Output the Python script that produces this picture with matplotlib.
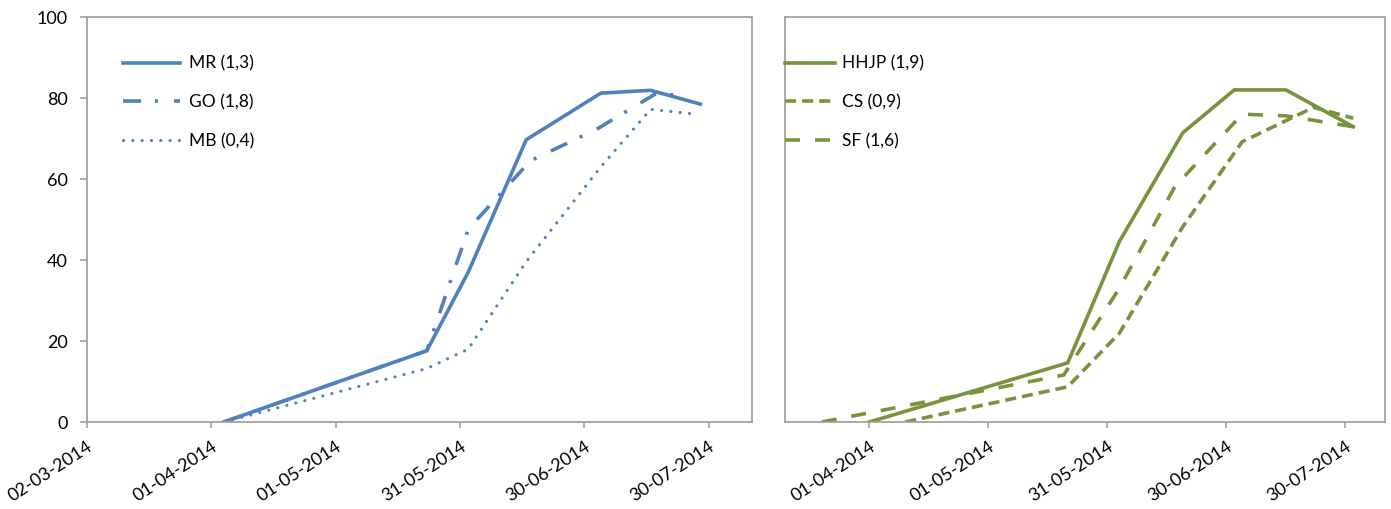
import matplotlib
matplotlib.use("Agg")
import matplotlib.pyplot as plt
import matplotlib.dates as mdates
import numpy as np

# --- data (dates as dd-mm-yyyy on the axis) ---
mr_dates = ["2014-04-04", "2014-05-23", "2014-06-02", "2014-06-16", "2014-07-04", "2014-07-16", "2014-07-28"]
mr_vals = [0, 17.6, 37.0, 69.7, 81.2, 81.9, 78.5]

go_dates = ["2014-04-04", "2014-05-23", "2014-06-02", "2014-06-17", "2014-07-03", "2014-07-17", "2014-07-24"]
go_vals = [0, 17.6, 47.6, 64.5, 72.3, 80.9, 80.7]

mb_dates = ["2014-04-04", "2014-05-23", "2014-06-02", "2014-06-16", "2014-07-04", "2014-07-16", "2014-07-27"]
mb_vals = [0, 13.2, 18.0, 39.6, 63.0, 77.2, 76.0]

hhjp_dates = ["2014-04-01", "2014-05-21", "2014-06-03", "2014-06-19", "2014-07-02", "2014-07-15", "2014-08-01"]
hhjp_vals = [0, 14.6, 44.5, 71.4, 82.0, 82.0, 72.9]

cs_dates = ["2014-04-10", "2014-05-21", "2014-06-03", "2014-06-19", "2014-07-04", "2014-07-22", "2014-08-01"]
cs_vals = [0, 8.7, 21.9, 48.2, 69.2, 77.7, 75.0]

sf_dates = ["2014-03-20", "2014-05-20", "2014-06-03", "2014-06-17", "2014-07-04", "2014-07-15", "2014-08-01"]
sf_vals = [0, 11.6, 33.0, 58.1, 76.0, 75.6, 72.9]

left_labels = ["MR (1,3)", "GO (1,8)", "MB (0,4)"]
right_labels = ["HHJP (1,9)", "CS (0,9)", "SF (1,6)"]

BLUE = "#4F81BD"
GREEN = "#77933C"
FRAME = "#A9A098"

plt.rcParams["font.family"] = ["Lato", "DejaVu Sans"]
plt.rcParams["lines.scale_dashes"] = False

fig = plt.figure(figsize=(13.91, 5.09), dpi=100)
ax1 = fig.add_axes([0.0625, 0.1709, 0.4779, 0.7957])
ax2 = fig.add_axes([0.564, 0.1709, 0.4317, 0.7957])


def d(lst):
    return np.array(lst, dtype="datetime64[D]")


ax1.plot(d(mr_dates), mr_vals, color=BLUE, lw=2.6, solid_joinstyle="miter", label=left_labels[0])
ax1.plot(d(go_dates), go_vals, color=BLUE, lw=2.6, dashes=(13, 10, 2.2, 11.5),
         dash_capstyle="butt", label=left_labels[1])
ax1.plot(d(mb_dates), mb_vals, color=BLUE, lw=2.3, dashes=(0.01, 6.7),
         dash_capstyle="round", label=left_labels[2])

ax2.plot(d(hhjp_dates), hhjp_vals, color=GREEN, lw=2.6, solid_joinstyle="miter", label=right_labels[0])
ax2.plot(d(cs_dates), cs_vals, color=GREEN, lw=2.6, dashes=(8, 4.3),
         dash_capstyle="butt", label=right_labels[1])
ax2.plot(d(sf_dates), sf_vals, color=GREEN, lw=2.6, dashes=(10.8, 10.8),
         dash_capstyle="butt", label=right_labels[2])

apr1 = mdates.date2num(np.datetime64("2014-04-01"))
ax1.set_xlim(apr1 - 30, apr1 + 130.4)
ax2.set_xlim(apr1 - 21.4, apr1 + 130)
ax1.set_xticks(apr1 - 30 + 30 * np.arange(6))
ax2.set_xticks(apr1 + 30 * np.arange(5))

for ax in (ax1, ax2):
    ax.set_ylim(0, 100)
    ax.xaxis.set_major_formatter(mdates.DateFormatter("%d-%m-%Y"))
    for s in ax.spines.values():
        s.set_color(FRAME)
        s.set_linewidth(1.3)
    ax.tick_params(axis="x", length=4, width=1.2, color=FRAME, pad=8, labelsize=13)
    for lab in ax.get_xticklabels():
        lab.set_rotation(33)
        lab.set_ha("right")
        lab.set_va("top")
        lab.set_rotation_mode("anchor")

ax1.set_yticks(np.arange(0, 101, 20))
ax1.tick_params(axis="y", length=5, width=1.2, color=FRAME, pad=9, labelsize=13)
ax2.set_yticks([])

ax1.legend(loc="upper left", bbox_to_anchor=(0.054, 0.905), frameon=False, fontsize=12.5,
           handlelength=3.3, handletextpad=0.5, labelspacing=1.3, borderaxespad=0, borderpad=0)
ax2.legend(loc="upper left", bbox_to_anchor=(0.0, 0.905), frameon=False, fontsize=12.5,
           handlelength=2.9, handletextpad=0.4, labelspacing=1.3, borderaxespad=0, borderpad=0)

fig.savefig("out.png", dpi=100)
